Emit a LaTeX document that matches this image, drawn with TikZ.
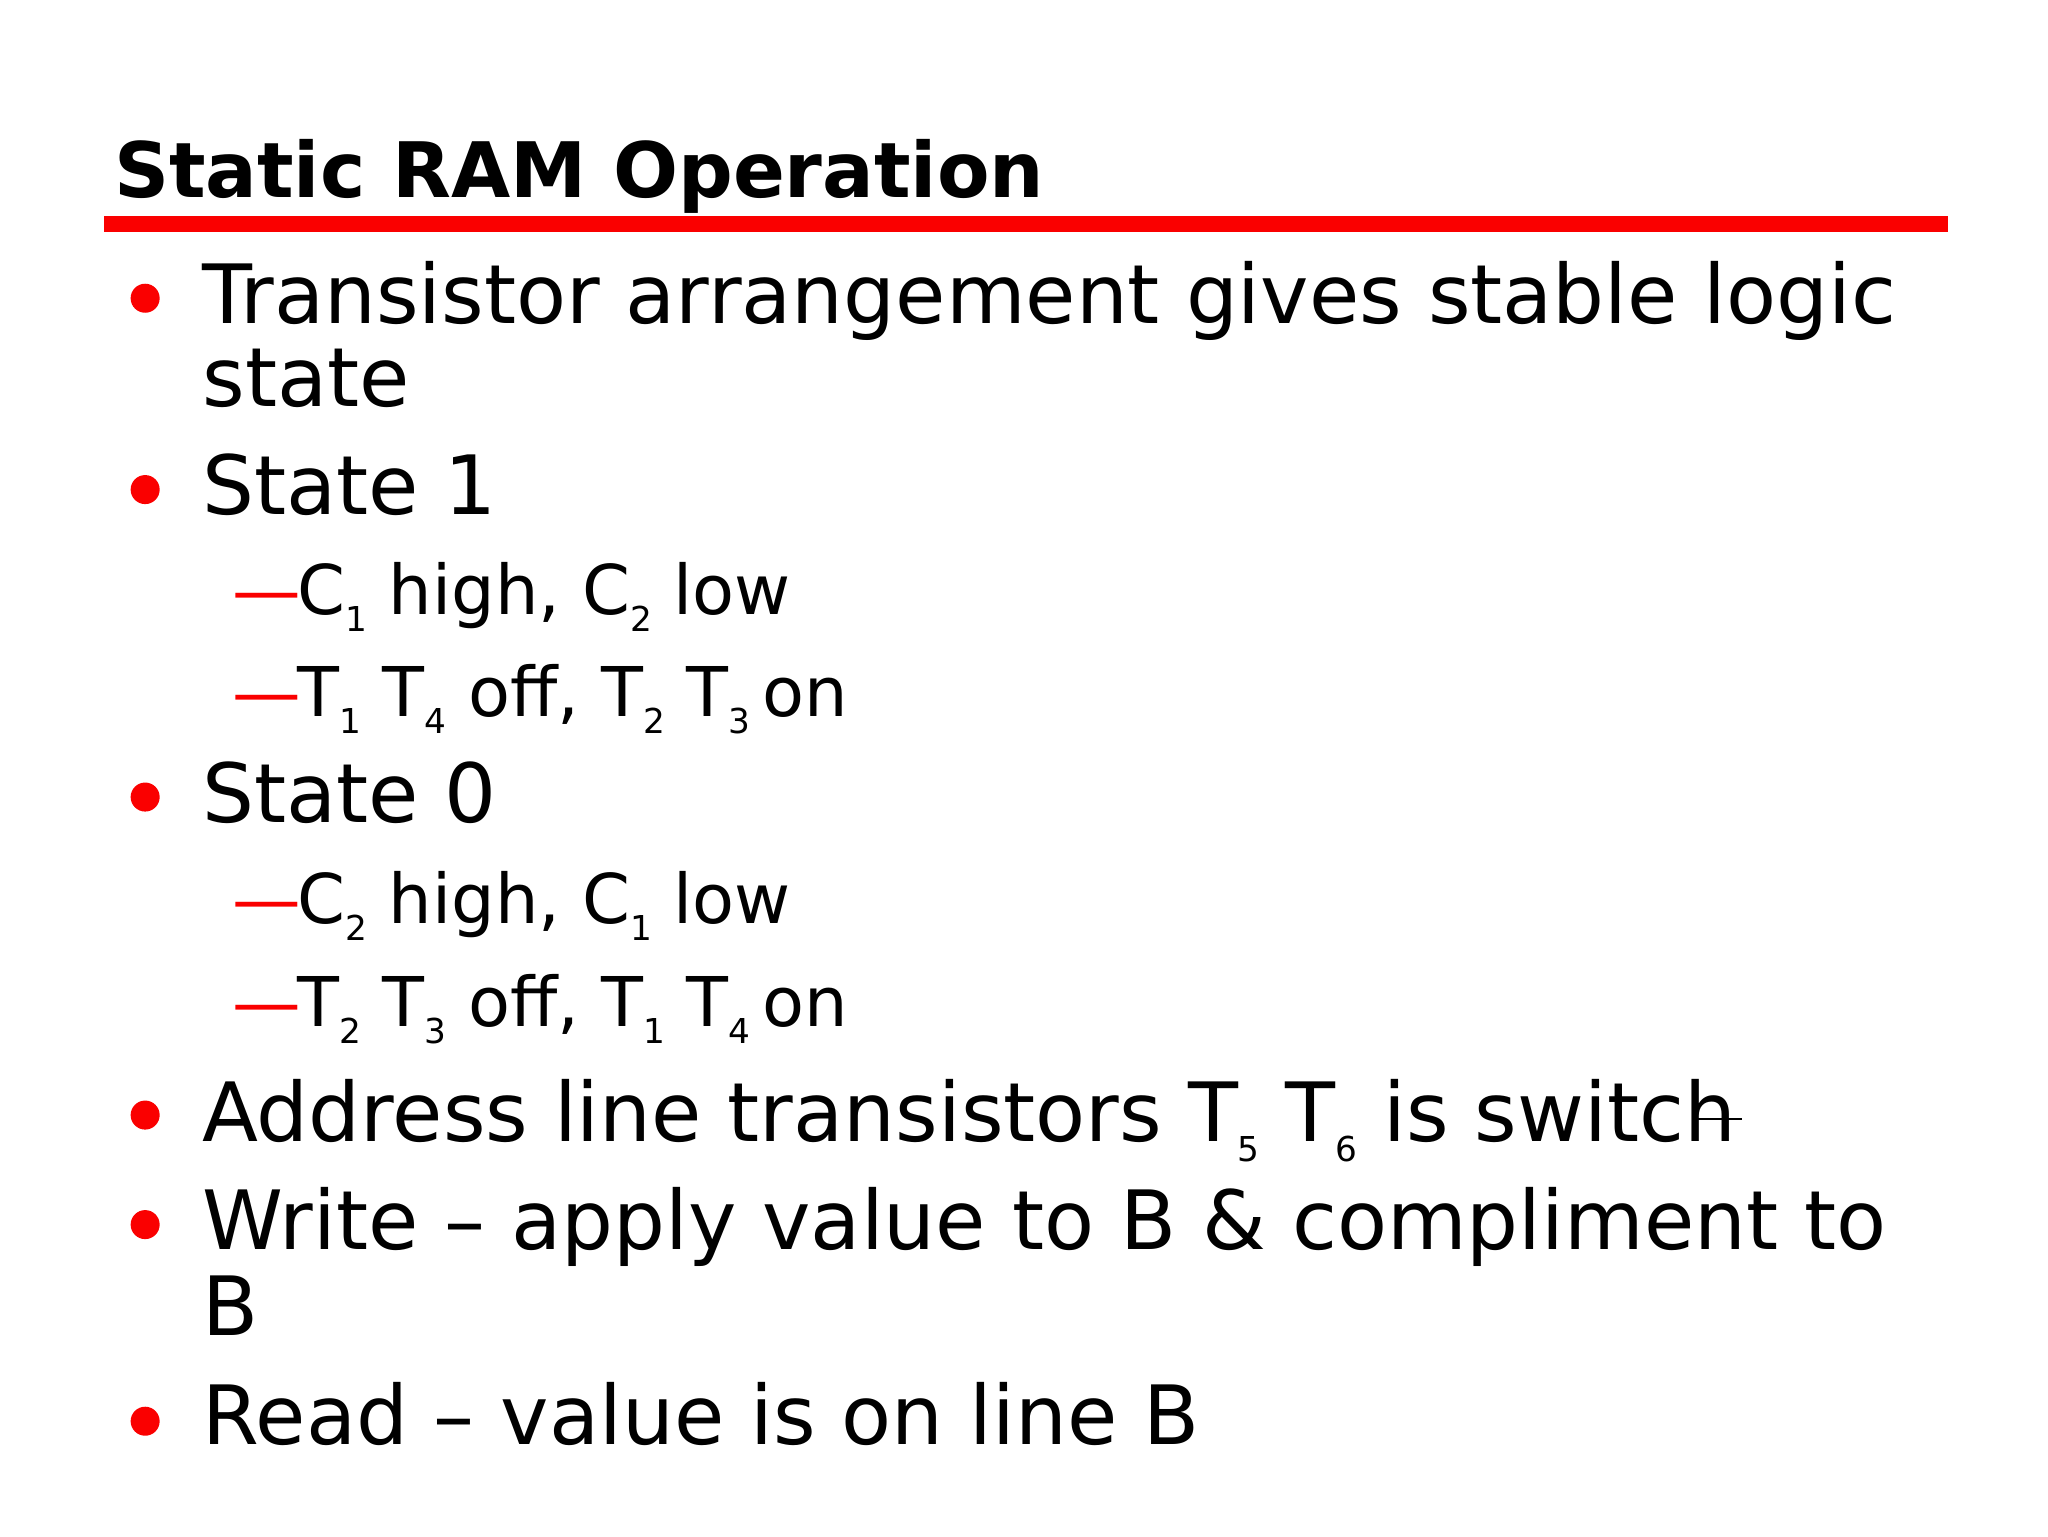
\documentclass[tikz,border=0pt]{standalone}
\usepackage{fontspec}
\setmainfont{DejaVu Sans}
\definecolor{slred}{RGB}{250,0,0}
\newcommand{\sbs}[1]{\raisebox{-0.45ex}{\fontsize{13pt}{13pt}\selectfont #1}}
\begin{document}
\begin{tikzpicture}[x=0.5pt,y=-0.5pt,
  lvone/.style={anchor=base west,inner sep=0pt,font=\fontsize{31pt}{31pt}\selectfont},
  lvtwo/.style={anchor=base west,inner sep=0pt,font=\fontsize{26pt}{26pt}\selectfont},
  bul/.style={circle,fill=slred,inner sep=0pt,minimum size=11pt},
  dsh/.style={anchor=base west,inner sep=0pt,text=slred,font=\fontsize{26pt}{26pt}\selectfont}]
\useasboundingbox (0,0) rectangle (1552,1164);
\node[anchor=base west,inner sep=0pt,font=\fontsize{29pt}{29pt}\selectfont\bfseries] (title) at (86,150) {Static RAM Operation};
\fill[slred] (79,164) rectangle (1476,176);
\node[bul] (b1) at (110,226) {};
\node[lvone] (l1) at (153,245) {Transistor arrangement gives stable logic};
\node[lvone] (l1b) at (153,308) {state};
\node[bul] (b2) at (110,371) {};
\node[lvone] (l2) at (153,390) {State 1};
\node[dsh] (d1) at (176,466) {—};
\node[lvtwo] (s1) at (225,466) {C\sbs{1} high, C\sbs{2} low};
\node[dsh] (d2) at (176,543) {—};
\node[lvtwo] (s2) at (225,543) {T\sbs{1} T\sbs{4} off, T\sbs{2} T\sbs{3}\,on};
\node[bul] (b3) at (110,604) {};
\node[lvone] (l3) at (153,623) {State 0};
\node[dsh] (d3) at (176,700) {—};
\node[lvtwo] (s3) at (225,700) {C\sbs{2} high, C\sbs{1} low};
\node[dsh] (d4) at (176,778) {—};
\node[lvtwo] (s4) at (225,778) {T\sbs{2} T\sbs{3} off, T\sbs{1} T\sbs{4}\,on};
\node[bul] (b4) at (110,845) {};
\node[lvone] (l4) at (153,865) {Address line transistors T\sbs{5} T\sbs{6} is switch};
\draw[black,line width=0.7pt] (1283,848) -- (1320,848);
\node[bul] (b5) at (110,928) {};
\node[lvone] (l5) at (153,947) {Write – apply value to B \& compliment to};
\node[lvone] (l5b) at (153,1012) {B};
\node[bul] (b6) at (110,1077) {};
\node[lvone] (l6) at (153,1095) {Read – value is on line B};
\end{tikzpicture}
\end{document}
